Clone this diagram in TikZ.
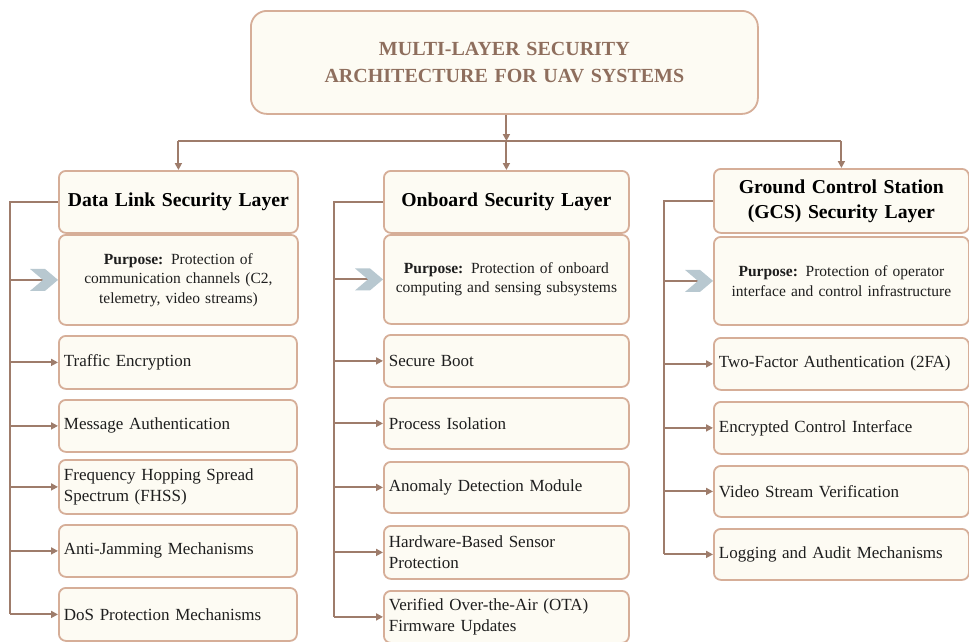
\documentclass[tikz,border=0pt]{standalone}
\usepackage{fontspec}
\setmainfont{Liberation Serif}
\usetikzlibrary{arrows.meta}
\definecolor{boxfill}{HTML}{FDFBF3}
\definecolor{boxline}{HTML}{D6AE98}
\definecolor{conn}{HTML}{9E7C6B}
\definecolor{titletext}{HTML}{8E6E5D}
\definecolor{chev}{HTML}{B8C8D0}
\definecolor{itemtext}{HTML}{1E1E1E}
\tikzset{
 base/.style={draw=boxline, fill=boxfill, line width=1.8pt, rounded corners=7pt, anchor=north west, inner sep=0pt},
 titlebox/.style={base, rounded corners=16pt, align=center, text=titletext, font=\fontsize{20}{27}\selectfont\bfseries},
 headbox/.style={base, align=center, text=black, font=\fontsize{19.7}{25}\selectfont\bfseries},
 purpbox/.style={base, align=center, text=itemtext, font=\fontsize{15.5}{19.5}\selectfont},
 itembox/.style={base, align=left, inner xsep=5pt, text=itemtext, font=\fontsize{17}{21}\selectfont},
 link/.style={draw=conn, line width=2pt},
 arr/.style={link, -{Triangle[length=7pt,width=7pt]}},
 chevfill/.style={fill=chev, draw=none},
}
\newcommand{\mychevron}[1]{%
 \fill[chevfill] ([xshift=-28pt,yshift=11pt]#1.west) -- ([xshift=-13pt,yshift=11pt]#1.west) -- (#1.west) -- ([xshift=-13pt,yshift=-11pt]#1.west) -- ([xshift=-28pt,yshift=-11pt]#1.west) -- ([xshift=-15pt]#1.west) -- cycle;}
\begin{document}
\begin{tikzpicture}[x=1pt,y=-1pt]
\useasboundingbox[fill=white] (0,0) rectangle (969,641);
% title
\node[titlebox, text width=507pt, minimum height=103pt] (title) at (250,10) {MULTI-LAYER SECURITY\\ARCHITECTURE FOR UAV SYSTEMS};
% column 1
\node[headbox, text width=239pt, minimum height=62pt] (h1) at (58,170) {Data Link Security Layer};
\node[purpbox, text width=239pt, minimum height=90pt] (p1) at (58,234) {\textbf{Purpose:} Protection of\\communication channels (C2,\\telemetry, video streams)};
\node[itembox, text width=228pt, minimum height=53pt] (i11) at (58,335) {Traffic Encryption};
\node[itembox, text width=228pt, minimum height=52pt] (i12) at (58,399) {Message Authentication};
\node[itembox, text width=228pt, minimum height=54pt] (i13) at (58,459) {Frequency Hopping Spread\\Spectrum (FHSS)};
\node[itembox, text width=228pt, minimum height=52pt] (i14) at (58,524) {Anti-Jamming Mechanisms};
\node[itembox, text width=228pt, minimum height=53pt] (i15) at (58,587) {DoS Protection Mechanisms};
% column 2
\node[headbox, text width=245pt, minimum height=62pt] (h2) at (383,170) {Onboard Security Layer};
\node[purpbox, text width=245pt, minimum height=89pt] (p2) at (383,234) {\textbf{Purpose:} Protection of onboard\\computing and sensing subsystems};
\node[itembox, text width=235pt, minimum height=52pt] (i21) at (383,334) {Secure Boot};
\node[itembox, text width=235pt, minimum height=51pt] (i22) at (383,397) {Process Isolation};
\node[itembox, text width=235pt, minimum height=51pt] (i23) at (383,461) {Anomaly Detection Module};
\node[itembox, text width=235pt, minimum height=53pt] (i24) at (383,525) {Hardware-Based Sensor\\Protection};
\node[itembox, text width=235pt, minimum height=52pt] (i25) at (383,590) {Verified Over-the-Air (OTA)\\Firmware Updates};
% column 3
\node[headbox, text width=255pt, minimum height=64pt] (h3) at (713,168) {Ground Control Station\\(GCS) Security Layer};
\node[purpbox, text width=255pt, minimum height=88pt] (p3) at (713,236) {\textbf{Purpose:} Protection of operator\\interface and control infrastructure};
\node[itembox, text width=245pt, minimum height=52pt] (i31) at (713,337) {Two-Factor Authentication (2FA)};
\node[itembox, text width=245pt, minimum height=52pt] (i32) at (713,401) {Encrypted Control Interface};
\node[itembox, text width=245pt, minimum height=51pt] (i33) at (713,465) {Video Stream Verification};
\node[itembox, text width=245pt, minimum height=51pt] (i34) at (713,528) {Logging and Audit Mechanisms};
% hub
\coordinate (hub) at (0,141);
\draw[arr] (h2.north |- title.south) -- (h2.north |- hub);
\draw[link] (h1.north |- hub) -- (h3.north |- hub);
\draw[arr] (h1.north |- hub) -- (h1.north);
\draw[arr] (h2.north |- hub) -- (h2.north);
\draw[arr] (h3.north |- hub) -- (h3.north);
% bars
\coordinate (b1) at (10,0);
\coordinate (b2) at (334,0);
\coordinate (b3) at (664,0);
\draw[link] (h1.west) -- (b1 |- h1.west) -- (b1 |- i15.west);
\draw[link] (h2.west) -- (b2 |- h2.west) -- (b2 |- i25.west);
\draw[link] (h3.west) -- (b3 |- h3.west) -- (b3 |- i34.west);
\draw[link] (b1 |- p1.west) -- ([xshift=-15pt]p1.west);
\draw[link] (b2 |- p2.west) -- ([xshift=-15pt]p2.west);
\draw[link] (b3 |- p3.west) -- ([xshift=-15pt]p3.west);
\mychevron{p1}
\mychevron{p2}
\mychevron{p3}
\foreach \n in {i11,i12,i13,i14,i15} \draw[arr] (b1 |- \n.west) -- (\n.west);
\foreach \n in {i21,i22,i23,i24,i25} \draw[arr] (b2 |- \n.west) -- (\n.west);
\foreach \n in {i31,i32,i33,i34} \draw[arr] (b3 |- \n.west) -- (\n.west);
\end{tikzpicture}
\end{document}
